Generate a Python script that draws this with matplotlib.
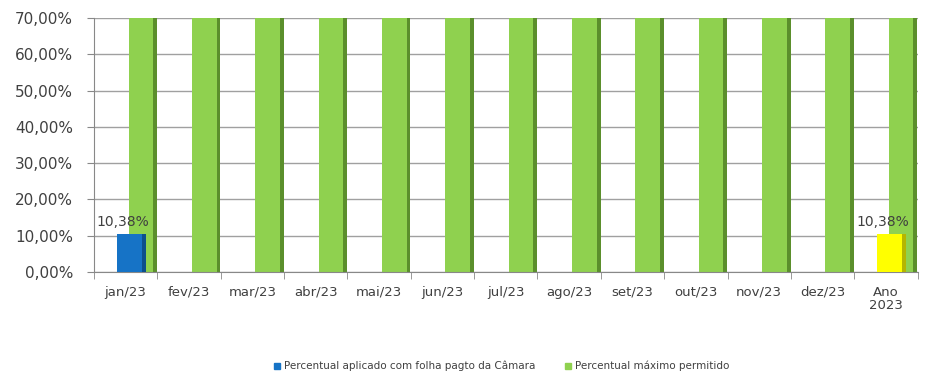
import matplotlib
matplotlib.use("Agg")
import matplotlib.pyplot as plt
import numpy as np
from matplotlib.patches import Rectangle

categories = ["jan/23", "fev/23", "mar/23", "abr/23", "mai/23", "jun/23", "jul/23",
              "ago/23", "set/23", "out/23", "nov/23", "dez/23", "Ano\n2023"]
aplicado = [10.38, None, None, None, None, None, None, None, None, None, None, None, 10.38]
maximo = [70.0] * 13
aplicado_labels = ["10,38%", "", "", "", "", "", "", "", "", "", "", "", "10,38%"]
y_ticks = [0, 10, 20, 30, 40, 50, 60, 70]
y_tick_labels = ["0,00%", "10,00%", "20,00%", "30,00%", "40,00%", "50,00%", "60,00%", "70,00%"]

blue, blue_dark = "#1673C6", "#0D4F8C"
yellow, yellow_dark = "#FFFF00", "#B5B500"
green, green_dark = "#8FD14F", "#5B8F2C"
text_col = "#404040"

fig = plt.figure(figsize=(9.25, 3.71), dpi=100)
ax = fig.add_axes([0.1016, 0.267, 0.8904, 0.684])

x = np.arange(len(categories))
w = 0.45
edge = 0.06

# green bars (maximum permitted) with a darker right face
ax.bar(x + 0.27, maximo, width=w, color=green, zorder=2, linewidth=0)
ax.bar(x + 0.27 + w / 2 - edge / 2, maximo, width=edge, color=green_dark, zorder=2.1, linewidth=0)

# applied percentage (blue for months, yellow for the year total)
for i, v in enumerate(aplicado):
    if v is None:
        continue
    face, dark = (yellow, yellow_dark) if i == len(categories) - 1 else (blue, blue_dark)
    ax.bar(x[i] + 0.09, v, width=w, color=face, zorder=3, linewidth=0)
    ax.bar(x[i] + 0.09 + w / 2 - edge / 2, v, width=edge, color=dark, zorder=3.1, linewidth=0)
    ax.text(x[i] - 0.05, v + 1.5, aplicado_labels[i], ha="center", va="bottom",
            fontsize=10, color=text_col, zorder=4)

ax.set_xlim(-0.5, len(categories) - 0.5)
ax.set_ylim(0, 70)
ax.set_yticks(y_ticks)
ax.set_yticklabels(y_tick_labels, fontsize=11, color=text_col)
ax.set_xticks(x)
ax.set_xticklabels(categories, fontsize=9.5, color=text_col, linespacing=1.0)
ax.set_xticks(np.arange(len(categories) + 1) - 0.5, minor=True)
ax.tick_params(axis="x", which="major", length=0, pad=10)
ax.tick_params(axis="x", which="minor", length=5, color="#888888")
ax.tick_params(axis="y", length=5, color="#888888", pad=10)

ax.grid(axis="y", color="#A0A0A0", linewidth=1.0, zorder=0)
for s in ["top", "right"]:
    ax.spines[s].set_visible(False)
ax.spines["left"].set_color("#888888")
ax.spines["bottom"].set_color("#888888")

# legend
fig.patches.append(Rectangle((274 / 925, 1 - 369 / 371), 6 / 925, 6 / 371,
                             transform=fig.transFigure, color=blue, figure=fig))
fig.text(284 / 925, 1 - 366 / 371, "Percentual aplicado com folha pagto da Câmara",
         fontsize=7.5, color=text_col, va="center", ha="left")
fig.patches.append(Rectangle((565 / 925, 1 - 369 / 371), 6 / 925, 6 / 371,
                             transform=fig.transFigure, color=green, figure=fig))
fig.text(575 / 925, 1 - 366 / 371, "Percentual máximo permitido",
         fontsize=7.5, color=text_col, va="center", ha="left")

fig.savefig("out.png", dpi=100)
